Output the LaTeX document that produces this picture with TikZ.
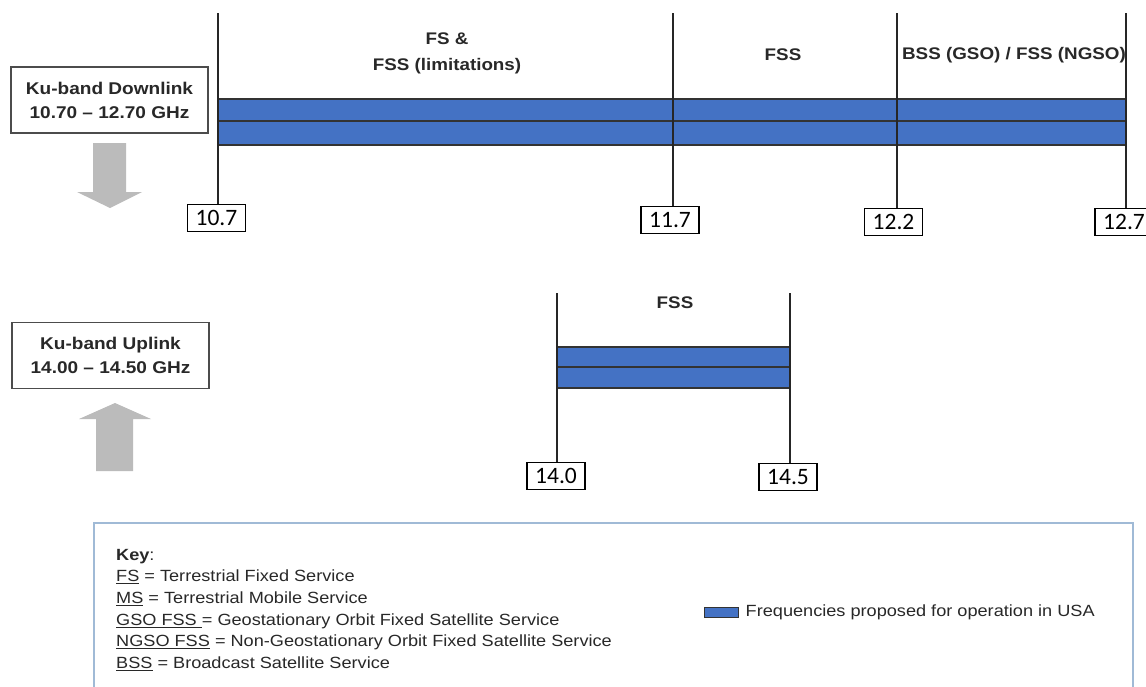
\documentclass[tikz,border=0pt]{standalone}
\usepackage{fontspec}
\setmainfont[FakeStretch=1.12]{Liberation Sans}
\newfontfamily\calfont{Carlito}
\usepackage{tikz}
\usetikzlibrary{positioning}
\definecolor{kublue}{RGB}{68,114,196}
\definecolor{arrgray}{RGB}{187,187,187}
\definecolor{keyframe}{RGB}{160,186,214}
\definecolor{txtgray}{RGB}{40,40,40}

\begin{document}
\begin{tikzpicture}[
  x=1pt, y=-1pt,
  every node/.style={align=center},
  bandlbl/.style={draw=black!70, line width=1.8pt, fill=white, minimum width=197pt, minimum height=66pt, inner sep=0pt, font=\fontsize{17}{24}\selectfont\bfseries, text=txtgray},
  ticklbl/.style={draw=black, line width=1.4pt, fill=white, minimum width=58pt, minimum height=27pt, inner sep=0pt, anchor=north, font=\calfont\fontsize{23.5}{23.5}\selectfont},
  svc/.style={font=\fontsize{16.8}{26}\selectfont\bfseries, text=txtgray},
  marker/.style={line width=1.5pt, draw=black!85},
  band/.style={fill=kublue, draw=black!80, line width=1.3pt},
  blockarr/.style={fill=arrgray, draw=none},
  keytxt/.style={font=\fontsize{16.2}{21.6}\selectfont, text=txtgray, inner sep=0pt}
]
\useasboundingbox (0,0) rectangle (1146,686);

% downlink band
\node[bandlbl] (dl) at (109.5,100) {Ku-band Downlink\\10.70 -- 12.70 GHz};
\draw[band] (218,99) rectangle (1126,145);
\draw[black!80, line width=1.3pt] (218,121) -- (1126,121);

\coordinate (top107) at (218,13);
\coordinate (top117) at (673,13);
\coordinate (top122) at (897,13);
\coordinate (top127) at (1126,13);
\node[ticklbl] (f107) at (216.5,204) {10.7};
\node[ticklbl] (f117) at (670,206) {11.7};
\node[ticklbl] (f122) at (893.5,208) {12.2};
\node[ticklbl] (f127) at (1124,208) {12.7};
\draw[marker] (top107) -- (top107 |- f107.north);
\draw[marker] (top117) -- (top117 |- f117.north);
\draw[marker] (top122) -- (top122 |- f122.north);
\draw[marker] (top127) -- (top127 |- f127.north);

\node[svc] (fsl) at (447,53) {FS \&\\FSS (limitations)};
\node[svc] (fssd) at (783,55) {FSS};
\node[svc] (bss) at (1014,55) {BSS (GSO) / FSS (NGSO)};

% block arrows
\fill[blockarr] (93,143) -- (126,143) -- (126,192) -- (142,192) -- (110,208)
  -- (77,192) -- (93,192) -- cycle;
\fill[blockarr] (96,471) -- (133,471) -- (133,419) -- (151,419) -- (115,403)
  -- (79,419) -- (96,419) -- cycle;

% uplink band
\node[bandlbl] (ul) at (110.5,355.5) {Ku-band Uplink\\14.00 -- 14.50 GHz};
\draw[band] (557,347) rectangle (790,388);
\draw[black!80, line width=1.3pt] (557,367) -- (790,367);

\coordinate (top140) at (557,293);
\coordinate (top145) at (790,293);
\node[ticklbl] (f140) at (556,462) {14.0};
\node[ticklbl] (f145) at (788,463) {14.5};
\draw[marker] (top140) -- (top140 |- f140.north);
\draw[marker] (top145) -- (top145 |- f145.north);

\node[svc] (fssu) at (675,303) {FSS};

% key
\draw[keyframe, line width=1.5pt] (94,700) -- (94,523) -- (1133,523) -- (1133,700);
\node[keytxt, align=left, anchor=north west] (keylist) at (116,549) {%
  \textbf{Key}:\\
  \underline{FS} = Terrestrial Fixed Service\\
  \underline{MS} = Terrestrial Mobile Service\\
  \underline{GSO FSS\ }= Geostationary Orbit Fixed Satellite Service\\
  \underline{NGSO FSS} = Non-Geostationary Orbit Fixed Satellite Service\\
  \underline{BSS} = Broadcast Satellite Service};
\node[draw=black!80, line width=1pt, fill=kublue, minimum width=34pt, minimum height=10pt, inner sep=0pt] (legsw) at (721,612) {};
\node[keytxt, right=7pt of legsw] (legtxt) {Frequencies proposed for operation in USA};
\end{tikzpicture}
\end{document}
